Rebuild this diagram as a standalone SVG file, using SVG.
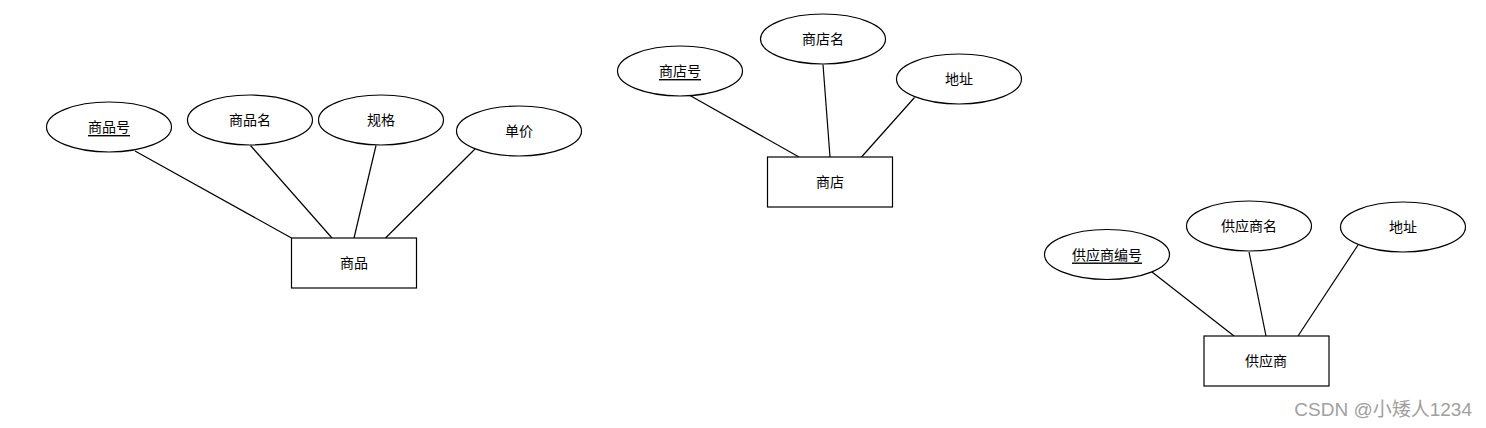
<svg xmlns="http://www.w3.org/2000/svg" width="1486" height="428" viewBox="0 0 1486 428">
<style>
.s{fill:#fff;stroke:#000;stroke-width:1.2}
.t{font-family:"Liberation Sans","Noto Sans CJK SC",sans-serif;font-size:14px;fill:#000;text-anchor:middle;dominant-baseline:central}
.u{text-decoration:underline}
.c{stroke:#000;stroke-width:1.2;fill:none}
.w{font-family:"Liberation Sans","Noto Sans CJK SC",sans-serif;font-size:19px;fill:#a0a0a0;text-anchor:end}
</style>
<rect width="1486" height="428" fill="#fff"/>
<g id="connectors">
<line class="c" x1="135" y1="151" x2="291.5" y2="238"/>
<line class="c" x1="250.5" y1="145.5" x2="332" y2="238"/>
<line class="c" x1="376" y1="145.5" x2="354" y2="238"/>
<line class="c" x1="475" y1="149" x2="385.5" y2="238"/>
<line class="c" x1="690" y1="95.5" x2="799" y2="157"/>
<line class="c" x1="823" y1="64.5" x2="830" y2="157"/>
<line class="c" x1="914.5" y1="97.5" x2="861.5" y2="157"/>
<line class="c" x1="1152" y1="272" x2="1234" y2="336"/>
<line class="c" x1="1249" y1="252" x2="1266" y2="336"/>
<line class="c" x1="1358" y1="245" x2="1298" y2="336"/>
</g>
<g id="e_shangpin"><rect class="s" x="291.5" y="238" width="125" height="50"/><text class="t" x="354" y="263">商品</text></g>
<g id="a_spid"><ellipse class="s" cx="109" cy="127" rx="62.5" ry="25"/><text class="t u" x="109" y="127">商品号</text></g>
<g id="a_spname"><ellipse class="s" cx="250" cy="120" rx="62.5" ry="25"/><text class="t" x="250" y="120">商品名</text></g>
<g id="a_spec"><ellipse class="s" cx="381" cy="120" rx="62.5" ry="25"/><text class="t" x="381" y="120">规格</text></g>
<g id="a_price"><ellipse class="s" cx="519" cy="131" rx="62.5" ry="25"/><text class="t" x="519" y="131">单价</text></g>
<g id="e_shop"><rect class="s" x="767.5" y="157" width="125" height="50"/><text class="t" x="830" y="182">商店</text></g>
<g id="a_shopid"><ellipse class="s" cx="680" cy="71" rx="62.5" ry="25"/><text class="t u" x="680" y="71">商店号</text></g>
<g id="a_shopname"><ellipse class="s" cx="823" cy="39" rx="62.5" ry="25"/><text class="t" x="823" y="39">商店名</text></g>
<g id="a_shopaddr"><ellipse class="s" cx="959" cy="79" rx="62.5" ry="25"/><text class="t" x="959" y="79">地址</text></g>
<g id="e_supplier"><rect class="s" x="1204" y="336" width="125" height="50"/><text class="t" x="1266" y="361">供应商</text></g>
<g id="a_supid"><ellipse class="s" cx="1107" cy="254.5" rx="62.5" ry="25"/><text class="t u" x="1107" y="254.5">供应商编号</text></g>
<g id="a_supname"><ellipse class="s" cx="1249" cy="226" rx="62.5" ry="25"/><text class="t" x="1249" y="226">供应商名</text></g>
<g id="a_supaddr"><ellipse class="s" cx="1403" cy="227" rx="62.5" ry="25"/><text class="t" x="1403" y="227">地址</text></g>
<text class="w" x="1472" y="416">CSDN @小矮人1234</text>
</svg>
